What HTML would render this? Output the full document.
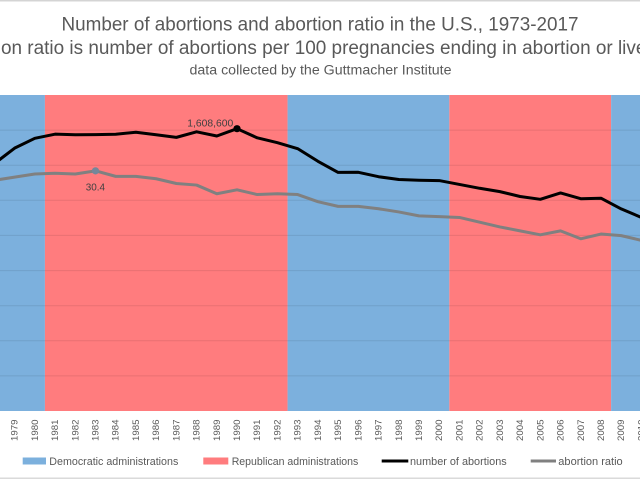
<!DOCTYPE html>
<html><head><meta charset="utf-8"><style>
html,body{margin:0;padding:0;background:#fff;}
svg{display:block;font-family:"Liberation Sans",sans-serif;}
</style></head><body>
<svg width="640" height="480" viewBox="0 0 640 480" xmlns="http://www.w3.org/2000/svg">
<rect x="0" y="0" width="640" height="480" fill="#fff"/>
<rect x="0" y="0" width="640" height="1.5" fill="#d4d4d4"/>
<rect x="0" y="477.5" width="640" height="1.5" fill="#dadada"/>
<!-- titles -->
<text x="320" y="30.7" text-anchor="middle" font-size="19" fill="#595959" textLength="517" lengthAdjust="spacingAndGlyphs">Number of abortions and abortion ratio in the U.S., 1973-2017</text>
<text x="320" y="54" text-anchor="middle" font-size="19" fill="#595959" textLength="737" lengthAdjust="spacingAndGlyphs">Abortion ratio is number of abortions per 100 pregnancies ending in abortion or live birth</text>
<text x="320.5" y="74.3" text-anchor="middle" font-size="13.5" fill="#595959" textLength="262" lengthAdjust="spacingAndGlyphs">data collected by the Guttmacher Institute</text>
<!-- bands -->
<rect x="0" y="95" width="44.93" height="316" fill="#7cb0dd"/>
<rect x="44.93" y="95" width="242.64" height="316" fill="#ff7c7e"/>
<rect x="287.57" y="95" width="161.76" height="316" fill="#7cb0dd"/>
<rect x="449.33" y="95" width="161.76" height="316" fill="#ff7c7e"/>
<rect x="611.09" y="95" width="30" height="316" fill="#7cb0dd"/>
<!-- gridlines -->
<g stroke="rgba(0,0,0,0.09)" stroke-width="1">
<line x1="0" x2="640" y1="130.1" y2="130.1"/>
<line x1="0" x2="640" y1="165.2" y2="165.2"/>
<line x1="0" x2="640" y1="200.3" y2="200.3"/>
<line x1="0" x2="640" y1="235.4" y2="235.4"/>
<line x1="0" x2="640" y1="270.6" y2="270.6"/>
<line x1="0" x2="640" y1="305.7" y2="305.7"/>
<line x1="0" x2="640" y1="340.8" y2="340.8"/>
<line x1="0" x2="640" y1="375.9" y2="375.9"/>
</g>
<!-- ratio line -->
<polyline fill="none" stroke="#808080" stroke-width="3" stroke-linejoin="round" points="-25.84,185.06 -5.62,180.32 14.6,177.16 34.82,174 55.04,173.21 75.26,174 95.48,170.84 115.7,176.37 135.92,176.37 156.14,178.74 176.36,183.48 196.58,185.06 216.8,193.75 237.02,189.8 257.24,194.54 277.46,193.75 297.68,194.54 317.9,201.65 338.12,206.39 358.34,206.39 378.56,208.76 398.78,211.92 419,215.87 439.22,216.66 459.44,217.45 479.66,222.19 499.88,226.93 520.1,230.88 540.32,234.83 560.54,230.88 580.76,238.78 600.98,234.04 621.2,235.62 641.42,240.36 661.64,243.52"/>
<!-- abortions line -->
<polyline fill="none" stroke="#000" stroke-width="3" stroke-linejoin="round" points="-25.84,179.92 -5.62,163.62 14.6,148.15 34.82,138.29 55.04,134.18 75.26,134.78 95.48,134.59 115.7,134.2 135.92,132.2 156.14,134.76 176.36,137.38 196.58,131.81 216.8,136.01 237.02,128.69 257.24,137.83 277.46,142.68 297.68,148.63 317.9,161.26 338.12,172.43 358.34,172.28 378.56,176.71 398.78,179.52 419,180.25 439.22,180.57 459.44,184.43 479.66,188.29 499.88,191.62 520.1,196.52 540.32,199.31 560.54,192.99 580.76,198.72 600.98,198.22 621.2,208.89 641.42,217.48 661.64,225.23"/>
<circle cx="237.02" cy="128.69" r="3.6" fill="#000"/>
<circle cx="95.48" cy="170.84" r="3.6" fill="#75879a"/>
<text x="187.3" y="126.7" font-size="10" fill="#404040" textLength="46" lengthAdjust="spacingAndGlyphs">1,608,600</text>
<text x="85.7" y="190.7" font-size="10" fill="#404040" textLength="19.3" lengthAdjust="spacingAndGlyphs">30.4</text>
<!-- x labels -->
<g font-size="9" fill="#595959">
<text transform="translate(17.6,419.5) rotate(-90)" text-anchor="end" textLength="21.5" lengthAdjust="spacingAndGlyphs">1979</text>
<text transform="translate(37.82,419.5) rotate(-90)" text-anchor="end" textLength="21.5" lengthAdjust="spacingAndGlyphs">1980</text>
<text transform="translate(58.04,419.5) rotate(-90)" text-anchor="end" textLength="21.5" lengthAdjust="spacingAndGlyphs">1981</text>
<text transform="translate(78.26,419.5) rotate(-90)" text-anchor="end" textLength="21.5" lengthAdjust="spacingAndGlyphs">1982</text>
<text transform="translate(98.48,419.5) rotate(-90)" text-anchor="end" textLength="21.5" lengthAdjust="spacingAndGlyphs">1983</text>
<text transform="translate(118.7,419.5) rotate(-90)" text-anchor="end" textLength="21.5" lengthAdjust="spacingAndGlyphs">1984</text>
<text transform="translate(138.92,419.5) rotate(-90)" text-anchor="end" textLength="21.5" lengthAdjust="spacingAndGlyphs">1985</text>
<text transform="translate(159.14,419.5) rotate(-90)" text-anchor="end" textLength="21.5" lengthAdjust="spacingAndGlyphs">1986</text>
<text transform="translate(179.36,419.5) rotate(-90)" text-anchor="end" textLength="21.5" lengthAdjust="spacingAndGlyphs">1987</text>
<text transform="translate(199.58,419.5) rotate(-90)" text-anchor="end" textLength="21.5" lengthAdjust="spacingAndGlyphs">1988</text>
<text transform="translate(219.8,419.5) rotate(-90)" text-anchor="end" textLength="21.5" lengthAdjust="spacingAndGlyphs">1989</text>
<text transform="translate(240.02,419.5) rotate(-90)" text-anchor="end" textLength="21.5" lengthAdjust="spacingAndGlyphs">1990</text>
<text transform="translate(260.24,419.5) rotate(-90)" text-anchor="end" textLength="21.5" lengthAdjust="spacingAndGlyphs">1991</text>
<text transform="translate(280.46,419.5) rotate(-90)" text-anchor="end" textLength="21.5" lengthAdjust="spacingAndGlyphs">1992</text>
<text transform="translate(300.68,419.5) rotate(-90)" text-anchor="end" textLength="21.5" lengthAdjust="spacingAndGlyphs">1993</text>
<text transform="translate(320.9,419.5) rotate(-90)" text-anchor="end" textLength="21.5" lengthAdjust="spacingAndGlyphs">1994</text>
<text transform="translate(341.12,419.5) rotate(-90)" text-anchor="end" textLength="21.5" lengthAdjust="spacingAndGlyphs">1995</text>
<text transform="translate(361.34,419.5) rotate(-90)" text-anchor="end" textLength="21.5" lengthAdjust="spacingAndGlyphs">1996</text>
<text transform="translate(381.56,419.5) rotate(-90)" text-anchor="end" textLength="21.5" lengthAdjust="spacingAndGlyphs">1997</text>
<text transform="translate(401.78,419.5) rotate(-90)" text-anchor="end" textLength="21.5" lengthAdjust="spacingAndGlyphs">1998</text>
<text transform="translate(422,419.5) rotate(-90)" text-anchor="end" textLength="21.5" lengthAdjust="spacingAndGlyphs">1999</text>
<text transform="translate(442.22,419.5) rotate(-90)" text-anchor="end" textLength="21.5" lengthAdjust="spacingAndGlyphs">2000</text>
<text transform="translate(462.44,419.5) rotate(-90)" text-anchor="end" textLength="21.5" lengthAdjust="spacingAndGlyphs">2001</text>
<text transform="translate(482.66,419.5) rotate(-90)" text-anchor="end" textLength="21.5" lengthAdjust="spacingAndGlyphs">2002</text>
<text transform="translate(502.88,419.5) rotate(-90)" text-anchor="end" textLength="21.5" lengthAdjust="spacingAndGlyphs">2003</text>
<text transform="translate(523.1,419.5) rotate(-90)" text-anchor="end" textLength="21.5" lengthAdjust="spacingAndGlyphs">2004</text>
<text transform="translate(543.32,419.5) rotate(-90)" text-anchor="end" textLength="21.5" lengthAdjust="spacingAndGlyphs">2005</text>
<text transform="translate(563.54,419.5) rotate(-90)" text-anchor="end" textLength="21.5" lengthAdjust="spacingAndGlyphs">2006</text>
<text transform="translate(583.76,419.5) rotate(-90)" text-anchor="end" textLength="21.5" lengthAdjust="spacingAndGlyphs">2007</text>
<text transform="translate(603.98,419.5) rotate(-90)" text-anchor="end" textLength="21.5" lengthAdjust="spacingAndGlyphs">2008</text>
<text transform="translate(624.2,419.5) rotate(-90)" text-anchor="end" textLength="21.5" lengthAdjust="spacingAndGlyphs">2009</text>
<text transform="translate(644.42,419.5) rotate(-90)" text-anchor="end" textLength="21.5" lengthAdjust="spacingAndGlyphs">2010</text>
</g>
<!-- legend -->
<rect x="22.7" y="457.5" width="23.3" height="7" fill="#7cb0dd"/>
<text x="49.3" y="465" font-size="11" fill="#595959" textLength="129" lengthAdjust="spacingAndGlyphs">Democratic administrations</text>
<rect x="203.3" y="457.5" width="25" height="7" fill="#ff7c7e"/>
<text x="231.7" y="465" font-size="11" fill="#595959" textLength="126.6" lengthAdjust="spacingAndGlyphs">Republican administrations</text>
<line x1="381.7" x2="408.3" y1="461" y2="461" stroke="#000" stroke-width="3"/>
<text x="410" y="465" font-size="11" fill="#595959" textLength="96.7" lengthAdjust="spacingAndGlyphs">number of abortions</text>
<line x1="530.7" x2="556" y1="461" y2="461" stroke="#808080" stroke-width="3"/>
<text x="558.3" y="465" font-size="11" fill="#595959" textLength="64.4" lengthAdjust="spacingAndGlyphs">abortion ratio</text>
</svg>
</body></html>
